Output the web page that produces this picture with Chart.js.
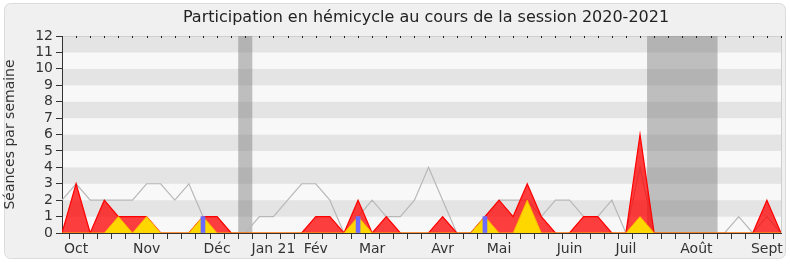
<!DOCTYPE html>
<html>
<head>
<meta charset="utf-8">
<script src="https://cdn.jsdelivr.net/npm/chart.js@4"></script>
<style>
  html, body { margin: 0; padding: 0; background: #fff; }
  #wrap { width: 790px; height: 267px; }
</style>
</head>
<body>
<div id="wrap"><canvas id="chart" width="790" height="267"></canvas></div>
<script>
// week index 0..51 (session 2020-2021)
const weeks = Array.from({ length: 52 }, (_, i) => i);

const totalSeances = [0,3,0,2,1,1,1,0,0,0,1,1,0,0,0,0,0,0,1,1,0,2,0,1,0,0,0,1,0,0,1,2,1,3,1,0,0,1,1,0,0,6,0,0,0,0,0,0,0,0,2,0];
const presSeances  = [0,0,0,0,1,0,1,0,0,0,1,0,0,0,0,0,0,0,0,0,0,1,0,0,0,0,0,0,0,0,1,0,0,2,0,0,0,0,0,0,0,1,0,0,0,0,0,0,0,0,0,0];
const questions    = [null,null,null,null,null,null,null,null,null,null,1,null,null,null,null,null,null,null,null,null,null,1,null,null,null,null,null,null,null,null,1,null,null,null,null,null,null,null,null,null,null,null,null,null,null,null,null,null,null,null,null,null];
const medianDeputes = [2,3,2,2,2,2,3,3,2,3,1,1,0,0,1,1,2,3,3,2,0,1,2,1,1,2,4,2,0,0,1,2,2,2,1,2,2,1,1,2,0,4,0,0,0,0,0,0,1,0,1,0];

const monthWeeks  = [1, 6, 11, 15, 18, 22, 27, 31, 36, 40, 45, 50];
const monthLabels = ["Oct", "Nov", "Déc", "Jan 21", "Fév", "Mar", "Avr", "Mai", "Juin", "Juil", "Août", "Sept"];

const vacStart = [12.5, 41.5];
const vacEnd   = [13.5, 46.5];

const yMax = 12;

Chart.defaults.font.family = "DejaVu Sans";
Chart.defaults.color = "#333";

const pts = arr => arr.map((v, i) => ({ x: weeks[i], y: v }));

// background card, stripes, title, holidays
const decor = {
  id: "decor",
  beforeDraw(chart) {
    const { ctx, chartArea: a, scales: { x, y } } = chart;
    ctx.save();
    ctx.fillStyle = "#fff";
    ctx.fillRect(0, 0, chart.width, chart.height);
    ctx.beginPath();
    ctx.roundRect(4.5, 3.5, 781, 255, 6);
    ctx.fillStyle = "#F0F0F0";
    ctx.fill();
    ctx.strokeStyle = "#DCDCDC";
    ctx.lineWidth = 1;
    ctx.stroke();

    for (let v = 0; v < yMax; v++) {
      const y1 = y.getPixelForValue(v + 1), y0 = y.getPixelForValue(v);
      ctx.fillStyle = v % 2 ? "#E4E4E4" : "#F8F8F8";
      ctx.fillRect(a.left, y1, a.right - a.left, y0 - y1);
    }
    ctx.strokeStyle = "#CFCFCF";
    ctx.beginPath();
    ctx.moveTo(a.left, a.top + 0.5);
    ctx.lineTo(a.right + 0.5, a.top + 0.5);
    ctx.lineTo(a.right + 0.5, a.bottom);
    ctx.stroke();

    ctx.fillStyle = "#222";
    ctx.font = "16px 'DejaVu Sans'";
    ctx.textAlign = "center";
    ctx.textBaseline = "middle";
    ctx.fillText("Participation en hémicycle au cours de la session 2020-2021", 426, 18);
    ctx.restore();
  },
  beforeDatasetsDraw(chart) {
    const { ctx, chartArea: a, scales: { x } } = chart;
    ctx.save();
    ctx.fillStyle = "rgba(120,120,120,0.45)";
    vacStart.forEach((s, i) => {
      const x0 = x.getPixelForValue(s), x1 = x.getPixelForValue(vacEnd[i]);
      ctx.fillRect(x0, a.top, x1 - x0, a.bottom - a.top);
    });
    ctx.restore();
  },
  afterDraw(chart) {
    const { ctx, chartArea: a, scales: { x } } = chart;
    ctx.save();
    ctx.fillStyle = "#222";
    weeks.forEach(w => {
      if (w === 0) return;
      ctx.fillRect(Math.round(x.getPixelForValue(w)), a.top, 1, 2);
    });
    ctx.restore();
  }
};

new Chart(document.getElementById("chart"), {
  type: "line",
  data: {
    datasets: [
      {
        type: "bar",
        data: pts(questions),
        backgroundColor: "#6B6BFF",
        barThickness: 4,
        order: 1
      },
      {
        data: pts(presSeances),
        backgroundColor: "#FFD700",
        borderColor: "#FFB000",
        borderWidth: 1,
        fill: "origin",
        pointRadius: 0,
        tension: 0,
        order: 2
      },
      {
        data: pts(totalSeances),
        backgroundColor: "rgba(255,0,0,0.75)",
        borderColor: "#FF0000",
        borderWidth: 1.2,
        fill: "origin",
        pointRadius: 0,
        tension: 0,
        order: 3
      },
      {
        data: pts(medianDeputes),
        borderColor: "#B8B8B8",
        borderWidth: 1.2,
        fill: false,
        pointRadius: 0,
        tension: 0,
        order: 4
      }
    ]
  },
  options: {
    responsive: false,
    animation: false,
    layout: { padding: { left: 0, top: 36, right: 9, bottom: 0 } },
    plugins: { legend: { display: false }, tooltip: { enabled: false }, title: { display: false } },
    scales: {
      x: {
        type: "linear",
        min: 0,
        max: 51,
        offset: false,
        afterFit: s => { s.height = 34; },
        ticks: {
          stepSize: 1,
          autoSkip: false,
          maxRotation: 0,
          padding: 2,
          font: { size: 14 },
          color: "#333",
          callback: v => {
            const k = monthWeeks.indexOf(v);
            return k >= 0 ? monthLabels[k] : "";
          }
        },
        grid: { drawOnChartArea: false, tickLength: 6, color: "#333" },
        border: { color: "#333" }
      },
      y: {
        min: 0,
        max: yMax,
        afterFit: s => { s.width = 62; },
        ticks: { stepSize: 1, autoSkip: false, padding: 3, font: { size: 14 }, color: "#333" },
        grid: { drawOnChartArea: false, tickLength: 6, color: "#333" },
        border: { color: "#333" },
        title: { display: true, text: "Séances par semaine", font: { size: 14 }, color: "#333", padding: { top: 2, bottom: 0 } }
      }
    }
  },
  plugins: [decor]
});
</script>
</body>
</html>
